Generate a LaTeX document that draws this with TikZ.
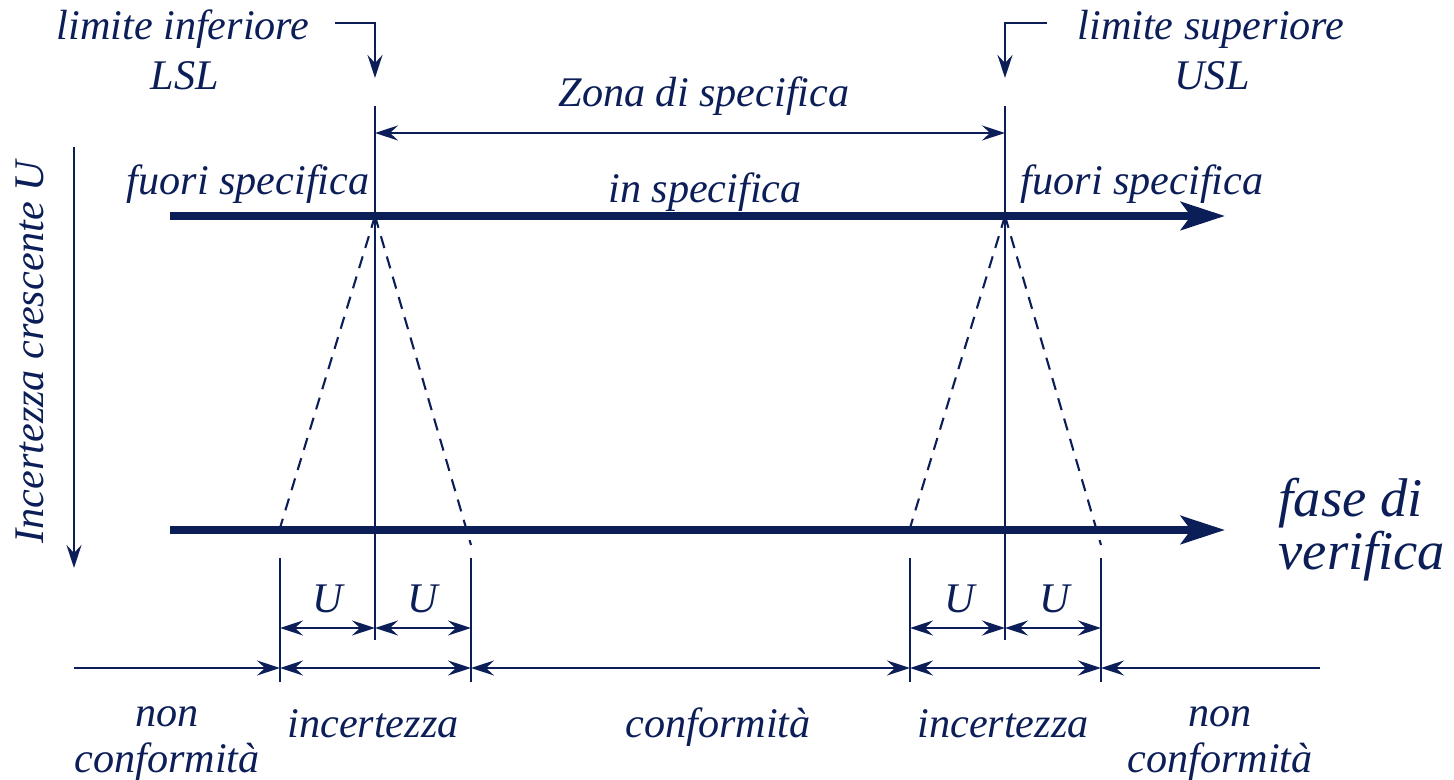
\documentclass[tikz,border=0pt]{standalone}
\usepackage{fontspec}
\setmainfont{Liberation Serif}
\usetikzlibrary{arrows.meta}
\definecolor{navy}{RGB}{12,30,88}

\begin{document}
\begin{tikzpicture}[x=0.01cm,y=-0.01cm,
  lbl/.style={text=navy,font=\itshape\fontsize{12}{14}\selectfont,inner sep=0pt},
  big/.style={lbl,font=\itshape\fontsize{15.5}{13.4}\selectfont},
  thinl/.style={draw=navy,line width=0.6pt},
  dim/.style={thinl,>={Stealth[length=2.3mm,width=1.5mm,inset=0.8mm]}},
  axis/.style={draw=navy,line width=2.3pt,-{Stealth[length=4.4mm,width=2.8mm,inset=1mm]}},
  guide/.style={thinl,dash pattern=on 3.5pt off 2.5pt}]
\useasboundingbox (0,0) rectangle (1454,780);
% limits and phases
\coordinate (ltop) at (375,106);  \coordinate (lbot) at (375,640);
\coordinate (utop) at (1005,106); \coordinate (ubot) at (1005,640);
\coordinate (lsl) at (375,216);   \coordinate (usl) at (1005,216);
\coordinate (a0) at (170,216);    \coordinate (a1) at (1225,216);
\coordinate (b0) at (170,530);    \coordinate (b1) at (1225,530);
\draw[axis] (a0) -- (a1);
\draw[axis] (b0) -- (b1);
\draw[thinl] (ltop) -- (lbot);
\draw[thinl] (utop) -- (ubot);
\draw[dim,<->] (375,133) coordinate (z0) -- (1005,133) coordinate (z1);
% pointers from the titles
\coordinate (pl) at (335,23);  \coordinate (pu) at (1047,23);
\draw[dim,->] (pl) -| (375,78);
\draw[dim,->] (pu) -| (1005,78);
\draw[dim,->] (74,147) coordinate (v0) -- (74,568) coordinate (v1);
% uncertainty cones
\coordinate (c1) at (280,528);  \coordinate (c2) at (471,545);
\coordinate (c3) at (910,528);  \coordinate (c4) at (1101,545);
\draw[guide] (lsl) -- (c1);
\draw[guide] (lsl) -- (c2);
\draw[guide] (usl) -- (c3);
\draw[guide] (usl) -- (c4);
\foreach \x in {280,471,910,1101}
  \draw[thinl] (\x,558) -- (\x,682);
\draw[dim,<->] (280,628) -- (375,628);
\draw[dim,<->] (375,628) -- (471,628);
\draw[dim,<->] (910,628) -- (1005,628);
\draw[dim,<->] (1005,628) -- (1101,628);
% zones
\draw[dim,->] (74,668) coordinate (d0) -- (280,668) coordinate (d1);
\draw[dim,<->] (d1) -- (471,668) coordinate (d2);
\draw[dim,<->] (d2) -- (910,668) coordinate (d3);
\draw[dim,<->] (d3) -- (1101,668) coordinate (d4);
\draw[dim,<-] (d4) -- (1320,668) coordinate (d5);
% labels
\node[lbl,anchor=base] (tinf) at (183,40) {limite inferiore};
\node[lbl,anchor=base] (tlsl) at (185,90) {LSL};
\node[lbl,anchor=base] (tsup) at (1211,40) {limite superiore};
\node[lbl,anchor=base] (tusl) at (1212,90) {USL};
\node[lbl,anchor=base] (zona) at (704,107) {Zona di specifica};
\node[lbl,anchor=base east] (fuori1) at (370,195) {fuori specifica};
\node[lbl,anchor=base] (inspec) at (705,203) {in specifica};
\node[lbl,anchor=base west] (fuori2) at (1020,195) {fuori specifica};
\node[lbl,anchor=base,rotate=90] (incU) at (44,352) {Incertezza crescente U};
\node[big,align=left,anchor=base west] (fase) at (1278,570) {fase di\\verifica};
\foreach \x/\n in {328/u1,423/u2,960/u3,1055/u4}
  \node[lbl,anchor=base] (\n) at (\x,613) {U};
\node[lbl,anchor=base] (nc1a) at (167,727) {non};
\node[lbl,anchor=base] (nc1b) at (167,773) {conformità};
\node[lbl,anchor=base] (inc1) at (373,738) {incertezza};
\node[lbl,anchor=base] (conf) at (718,738) {conformità};
\node[lbl,anchor=base] (inc2) at (1003,738) {incertezza};
\node[lbl,anchor=base] (nc2a) at (1220,727) {non};
\node[lbl,anchor=base] (nc2b) at (1220,773) {conformità};
\end{tikzpicture}
\end{document}
